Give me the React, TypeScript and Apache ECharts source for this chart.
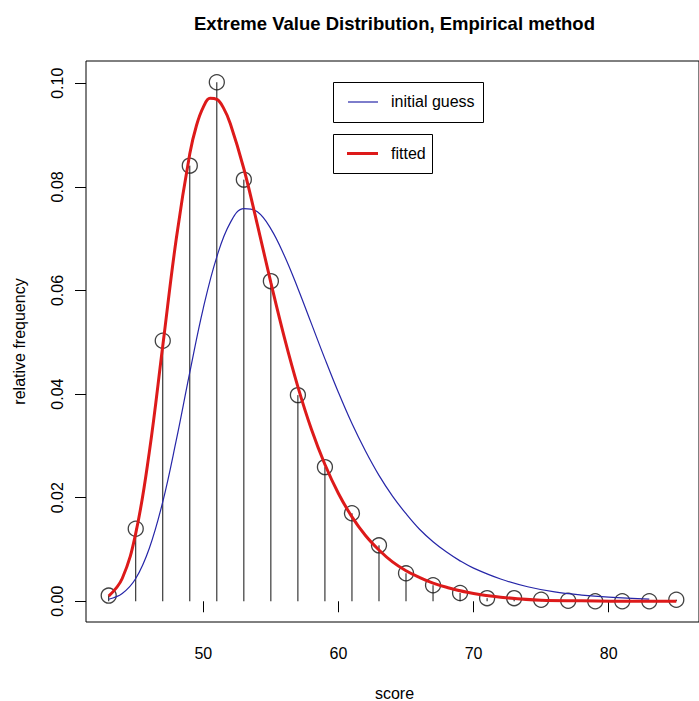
import React, { useEffect, useRef } from "react";
import * as echarts from "echarts";

// Observed relative frequencies (points + vertical "h" lines)
const scoreX = [43, 45, 47, 49, 51, 53, 55, 57, 59, 61, 63, 65, 67, 69, 71, 73, 75, 77, 79, 81, 83, 85];
const relFreq = [0.0011, 0.0140, 0.0503, 0.0841, 0.1002, 0.0814, 0.0618, 0.0398, 0.0259, 0.0170, 0.0108, 0.0054, 0.0031, 0.0016, 0.0006, 0.0006, 0.0003, 0.0001, 0.0000, 0.0000, 0.0000, 0.0003];

// Initial guess curve (blue)
const guessX = [43, 44, 45, 46, 47, 48, 49, 50, 51, 52, 53, 54, 55, 56, 57, 58, 59, 60, 61, 62, 63, 64, 65, 66, 67, 68, 69, 70, 72, 74, 76, 78, 80, 83];
const guessY = [0.0004, 0.0015, 0.0044, 0.0102, 0.0192, 0.0311, 0.0442, 0.0566, 0.0665, 0.0731, 0.0758, 0.0752, 0.0719, 0.0667, 0.0604, 0.0536, 0.0468, 0.0403, 0.0343, 0.0290, 0.0243, 0.0203, 0.0169, 0.0139, 0.0115, 0.0095, 0.0078, 0.0064, 0.0043, 0.0028, 0.0018, 0.0012, 0.0008, 0.0004];

// Fitted curve (red)
const fitX = [43, 44, 45, 46, 47, 48, 49, 49.5, 50, 50.5, 51, 51.5, 52, 53, 54, 55, 56, 57, 58, 59, 60, 61, 62, 63, 64, 65, 66, 67, 68, 70, 72, 75, 78, 81, 85];
const fitY = [0.0010, 0.0044, 0.0131, 0.0287, 0.0493, 0.0700, 0.0864, 0.0919, 0.0954, 0.0971, 0.0969, 0.0952, 0.0922, 0.0835, 0.0727, 0.0615, 0.0509, 0.0414, 0.0332, 0.0264, 0.0208, 0.0163, 0.0127, 0.0099, 0.0076, 0.0059, 0.0046, 0.0035, 0.0027, 0.0015, 0.0008, 0.0002, 0.0001, 0.0000, 0.0000];

const xTicks = [50, 60, 70, 80];
const yTicks = [0, 0.02, 0.04, 0.06, 0.08, 0.1];

const titleText = "Extreme Value Distribution, Empirical method";
const xTitle = "score";
const yTitle = "relative frequency";
const legendGuess = "initial guess";
const legendFit = "fitted";

const FONT = "'Liberation Sans', Arial, Helvetica, sans-serif";
const BLUE = "#2626a8";
const RED = "#dd1a1a";

export default function App() {
  const ref = useRef<HTMLDivElement>(null);

  useEffect(() => {
    if (!ref.current) return;
    const chart = echarts.init(ref.current, null, { renderer: "svg" });
    const option: any = {
      animation: false,
      backgroundColor: "#ffffff",
      grid: {
        left: 86,
        right: -4,
        top: 61,
        bottom: 79,
        show: true,
        borderColor: "#000",
        borderWidth: 1,
        backgroundColor: "transparent",
      },
      xAxis: {
        type: "value",
        min: 41.32,
        max: 86.68,
        axisLine: { show: false },
        splitLine: { show: false },
        axisTick: {
          show: true,
          inside: false,
          length: 11,
          lineStyle: { color: "#000", width: 1 },
          customValues: xTicks,
        },
        axisLabel: {
          customValues: xTicks,
          fontSize: 16,
          color: "#000",
          fontFamily: FONT,
          margin: 23,
          formatter: (v: number) => String(v),
        },
      },
      yAxis: {
        type: "value",
        min: -0.004,
        max: 0.1043,
        axisLine: { show: false },
        splitLine: { show: false },
        axisTick: {
          show: true,
          inside: false,
          length: 11,
          lineStyle: { color: "#000", width: 1 },
          customValues: yTicks,
        },
        axisLabel: {
          customValues: yTicks,
          fontSize: 16,
          color: "#000",
          fontFamily: FONT,
          rotate: 90,
          margin: 21,
          formatter: (v: number) => v.toFixed(2),
        },
      },
      series: [
        {
          type: "custom",
          name: "hlines",
          data: scoreX.map((x, i) => [x, relFreq[i]]),
          renderItem: (params: any, api: any) => {
            const p0 = api.coord([api.value(0), 0]);
            const p1 = api.coord([api.value(0), api.value(1)]);
            return {
              type: "line",
              shape: { x1: p0[0], y1: p0[1], x2: p1[0], y2: p1[1] },
              style: { stroke: "#111", lineWidth: 1 },
            };
          },
          z: 1,
          silent: true,
        },
        {
          type: "scatter",
          name: "points",
          data: scoreX.map((x, i) => [x, relFreq[i]]),
          symbol: "circle",
          symbolSize: 15,
          itemStyle: { color: "transparent", borderColor: "#111", borderWidth: 1.3 },
          z: 2,
          silent: true,
        },
        {
          type: "line",
          name: legendGuess,
          data: guessX.map((x, i) => [x, guessY[i]]),
          symbol: "none",
          smooth: 0.4,
          lineStyle: { color: BLUE, width: 1.2 },
          z: 3,
          silent: true,
        },
        {
          type: "line",
          name: legendFit,
          data: fitX.map((x, i) => [x, fitY[i]]),
          symbol: "none",
          smooth: 0.4,
          lineStyle: { color: RED, width: 3 },
          z: 4,
          silent: true,
        },
      ],
      graphic: [
        {
          type: "text",
          x: 394.5,
          y: 23,
          style: {
            text: titleText,
            fontSize: 18.5,
            fontWeight: "bold",
            fontFamily: FONT,
            fill: "#000",
            align: "center",
            verticalAlign: "middle",
          },
        },
        {
          type: "text",
          x: 394.5,
          y: 693,
          style: {
            text: xTitle,
            fontSize: 16,
            fontFamily: FONT,
            fill: "#000",
            align: "center",
            verticalAlign: "middle",
          },
        },
        {
          type: "text",
          x: 19,
          y: 341.5,
          rotation: Math.PI / 2,
          style: {
            text: yTitle,
            fontSize: 16,
            fontFamily: FONT,
            fill: "#000",
            align: "center",
            verticalAlign: "middle",
          },
        },
        {
          type: "rect",
          shape: { x: 333.5, y: 82.5, width: 150, height: 40 },
          style: { fill: "#fff", stroke: "#000", lineWidth: 1 },
          z: 10,
        },
        {
          type: "line",
          shape: { x1: 348, y1: 102, x2: 378, y2: 102 },
          style: { stroke: BLUE, lineWidth: 1.2 },
          z: 11,
        },
        {
          type: "text",
          x: 391,
          y: 101,
          style: {
            text: legendGuess,
            fontSize: 16,
            fontFamily: FONT,
            fill: "#000",
            align: "left",
            verticalAlign: "middle",
          },
          z: 11,
        },
        {
          type: "rect",
          shape: { x: 333.5, y: 134.5, width: 99, height: 39 },
          style: { fill: "#fff", stroke: "#000", lineWidth: 1 },
          z: 10,
        },
        {
          type: "line",
          shape: { x1: 347, y1: 153.5, x2: 378, y2: 153.5 },
          style: { stroke: RED, lineWidth: 3 },
          z: 11,
        },
        {
          type: "text",
          x: 391,
          y: 153,
          style: {
            text: legendFit,
            fontSize: 16,
            fontFamily: FONT,
            fill: "#000",
            align: "left",
            verticalAlign: "middle",
          },
          z: 11,
        },
      ],
    };
    chart.setOption(option);
    return () => {
      chart.dispose();
    };
  }, []);

  return (
    <div
      ref={ref}
      style={{ position: "absolute", left: 0, top: 0, width: 699, height: 701, background: "#fff", overflow: "hidden" }}
    />
  );
}
